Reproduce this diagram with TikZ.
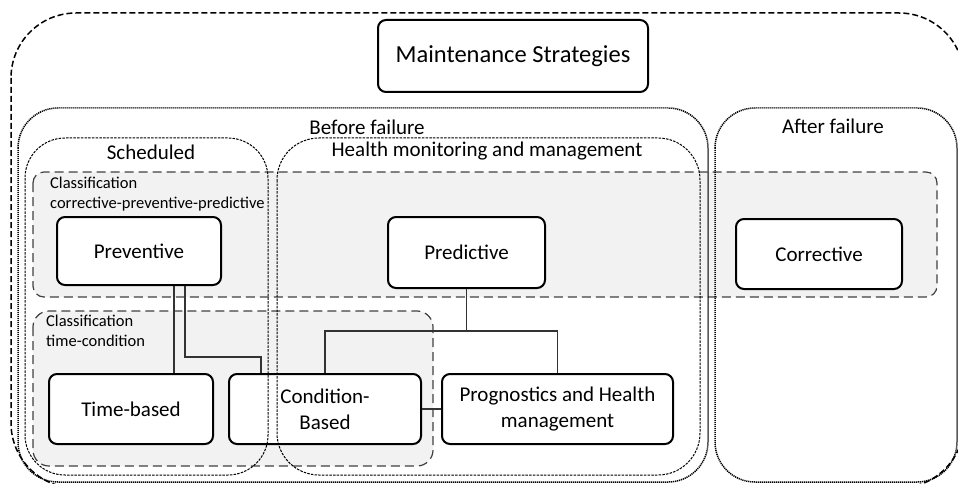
\documentclass[tikz,border=0pt]{standalone}
\usepackage{fontspec}
\setmainfont{Carlito}

\begin{document}
\begin{tikzpicture}[x=1pt, y=-1pt,
    strategy/.style={draw, line width=2pt, rounded corners=8pt, fill=white, align=center,
      inner sep=0pt, font=\fontsize{21}{26}\selectfont},
    grouplabel/.style={anchor=base, inner sep=0pt, font=\fontsize{21}{26}\selectfont},
    classlabel/.style={anchor=north west, align=left, inner sep=0pt, font=\fontsize{16.5}{20}\selectfont},
    classbox/.style={draw=black!75, fill=black!5, line width=1.2pt, dash pattern=on 9pt off 5pt},
    phasebox/.style={draw, line width=1.5pt, dash pattern=on 1.2pt off 0.8pt},
    kindbox/.style={draw, line width=1pt, dash pattern=on 2.5pt off 1.2pt},
    link/.style={draw=black!80, line width=1.2pt}]
        \useasboundingbox (0, 0) rectangle (958, 484);

        \draw [line width=1.5pt, dash pattern=on 6pt off 3pt, rounded corners=65pt] (11, 13) rectangle (964, 488);

        \draw [classbox, rounded corners=11pt] (33, 172) rectangle (937, 297);
        \draw [classbox, rounded corners=16pt] (33, 311) rectangle (433, 466);
        \node [classlabel] (classcpp) at (50, 177) {Classification\\corrective-preventive-predictive};
        \node [classlabel] (classtc) at (46, 315) {Classification\\time-condition};

        \draw [phasebox, rounded corners=40pt] (18, 108) rectangle (708, 482);
        \draw [phasebox, rounded corners=40pt] (715, 108) rectangle (957, 482);
        \node [grouplabel] (before) at (367, 135) {Before failure};
        \node [grouplabel] (after) at (833, 133) {After failure};

        \node [strategy, font=\fontsize{24.5}{28}\selectfont, minimum width=270pt, minimum height=72pt] (main) at (513, 56) {Maintenance Strategies};

        \node [strategy, minimum width=164pt, minimum height=68pt] (prev) at (139, 251) {Preventive};
        \node [strategy, minimum width=157pt, minimum height=71pt] (pred) at (466.5, 252.5) {Predictive};
        \node [strategy, minimum width=166pt, minimum height=70pt] (corr) at (819, 254) {Corrective};
        \node [strategy, minimum width=164pt, minimum height=70pt] (time) at (131, 409) {Time-based};
        \node [strategy, minimum width=192pt, minimum height=70pt] (cond) at (325, 409) {Condition-\\Based};
        \node [strategy, minimum width=231pt, minimum height=70pt] (prog) at (557.5, 409) {Prognostics and Health\\management};

        \coordinate (fork) at ([yshift=-42pt]pred.south);
        \draw [link] ([xshift=35pt]prev.south) -- ([xshift=35pt]prev.south |- time.north);
        \draw [link] ([xshift=46pt]prev.south) |- ([xshift=-64pt, yshift=16pt]cond.north) -- ([xshift=-64pt]cond.north);
        \draw [link] (pred.south) -- (fork);
        \draw [link] (cond.north) |- (fork) -| (prog.north);
        \draw [link] (cond.east) -- (prog.west);

        \draw [kindbox, rounded corners=40pt] (25, 138) rectangle (268, 475);
        \draw [kindbox, rounded corners=42pt] (277, 138) rectangle (700, 475);
        \node [grouplabel] (sched) at (151, 159) {Scheduled};
        \node [grouplabel] (health) at (487, 157) {Health monitoring and management};
      \end{tikzpicture}
\end{document}
